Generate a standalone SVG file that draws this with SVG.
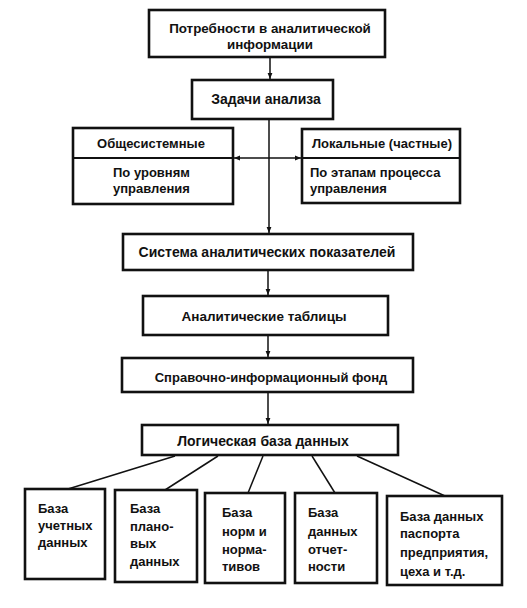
<svg xmlns="http://www.w3.org/2000/svg" width="527" height="608" viewBox="0 0 527 608">
<defs>
<marker id="ah" viewBox="0 0 10 10" refX="10" refY="5" markerWidth="6" markerHeight="7" orient="auto-start-reverse" markerUnits="userSpaceOnUse">
<path d="M0,1 L10,5 L0,9 Z" fill="#111"/>
</marker>
<style>
.b{fill:#fff;stroke:#111;stroke-width:2.6}
.t{font-family:"Liberation Sans",Arial,sans-serif;font-weight:bold;font-size:13px;fill:#111}
.c{text-anchor:middle}
.l{fill:none;stroke:#111;stroke-width:1.5}
.big{font-size:14px}
</style>
</defs>
<rect width="527" height="608" fill="#fff"/>
<g id="connectors">
<line class="l" x1="270" y1="58" x2="270" y2="79" marker-end="url(#ah)"/>
<line class="l" x1="269" y1="120" x2="269" y2="233" marker-end="url(#ah)"/>
<line class="l" x1="234" y1="158" x2="301" y2="158" marker-start="url(#ah)" marker-end="url(#ah)"/>
<line class="l" x1="268" y1="271" x2="268" y2="295" marker-end="url(#ah)"/>
<line class="l" x1="268" y1="336" x2="268" y2="357" marker-end="url(#ah)"/>
<line class="l" x1="268" y1="393" x2="268" y2="424" marker-end="url(#ah)"/>
<line class="l" x1="175" y1="456" x2="68" y2="489"/>
<line class="l" x1="218" y1="456" x2="165" y2="490"/>
<line class="l" x1="263" y1="456" x2="248" y2="493"/>
<line class="l" x1="312" y1="456" x2="335" y2="493"/>
<line class="l" x1="357" y1="456" x2="445" y2="496"/>
</g>
<g id="n1"><rect class="b" x="149" y="10" width="236" height="47"/>
<text class="t c" x="270" y="33" style="font-size:13.4px">Потребности в аналитической</text>
<text class="t c" x="270" y="49" style="font-size:13.4px">информации</text></g>
<g id="n2"><rect class="b" x="192" y="80" width="141" height="39"/>
<text class="t c big" x="266" y="104">Задачи анализа</text></g>
<g id="n3"><rect class="b" x="73" y="128" width="160" height="76"/>
<line x1="73" y1="158" x2="233" y2="158" stroke="#111" stroke-width="2"/>
<text class="t c" x="151" y="148">Общесистемные</text>
<text class="t" x="113" y="177">По уровням</text>
<text class="t" x="113" y="193">управления</text></g>
<g id="n4"><rect class="b" x="302" y="129" width="158" height="74"/>
<line x1="302" y1="158" x2="460" y2="158" stroke="#111" stroke-width="2"/>
<text class="t c" x="382" y="148">Локальные (частные)</text>
<text class="t" x="310" y="177">По этапам процесса</text>
<text class="t" x="310" y="193">управления</text></g>
<g id="n5"><rect class="b" x="123" y="234" width="290" height="36"/>
<text class="t c big" x="267" y="257">Система аналитических показателей</text></g>
<g id="n6"><rect class="b" x="143" y="296" width="245" height="39"/>
<text class="t c" x="264" y="321" style="font-size:13.5px">Аналитические таблицы</text></g>
<g id="n7"><rect class="b" x="122" y="358" width="291" height="34"/>
<text class="t c" x="271" y="382">Справочно-информационный фонд</text></g>
<g id="n8"><rect class="b" x="142" y="425" width="256" height="30"/>
<text class="t c big" x="263" y="446">Логическая база данных</text></g>
<g id="n9"><rect class="b" x="25" y="489" width="80" height="90"/>
<text class="t" x="38" y="513">База</text>
<text class="t" x="38" y="530">учетных</text>
<text class="t" x="38" y="547">данных</text></g>
<g id="n10"><rect class="b" x="115" y="490" width="82" height="92"/>
<text class="t" x="130" y="513">База</text>
<text class="t" x="130" y="531">плано-</text>
<text class="t" x="130" y="548">вых</text>
<text class="t" x="130" y="566">данных</text></g>
<g id="n11"><rect class="b" x="205" y="493" width="80" height="90"/>
<text class="t" x="222" y="517">База</text>
<text class="t" x="222" y="536">норм и</text>
<text class="t" x="222" y="554">норма-</text>
<text class="t" x="222" y="571">тивов</text></g>
<g id="n12"><rect class="b" x="295" y="493" width="82" height="90"/>
<text class="t" x="308" y="517">База</text>
<text class="t" x="308" y="536">данных</text>
<text class="t" x="308" y="554">отчет-</text>
<text class="t" x="308" y="571">ности</text></g>
<g id="n13"><rect class="b" x="387" y="496" width="115" height="89"/>
<text class="t" x="400" y="521">База данных</text>
<text class="t" x="400" y="538">паспорта</text>
<text class="t" x="400" y="557">предприятия,</text>
<text class="t" x="400" y="576">цеха и т.д.</text></g>
</svg>
